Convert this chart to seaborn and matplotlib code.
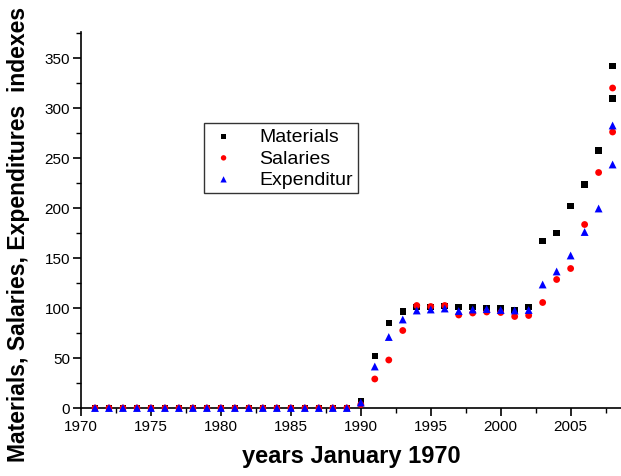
import numpy as np
import pandas as pd
import matplotlib
matplotlib.use("Agg")
import matplotlib.pyplot as plt
import seaborn as sns
from matplotlib.ticker import MultipleLocator

years = list(range(1971, 2009)) + [2008]

materials = [0] * 19 + [6.5, 52, 85, 96.5, 101, 101, 102, 101, 101, 100, 99.5, 98, 101,
                        167, 175, 202, 223.5, 257.5, 342, 309.5]
salaries = [0] * 19 + [3.5, 29, 48, 77.5, 102.5, 101.5, 102.5, 93, 95, 96, 95.5, 91.5, 92.5,
                       105.5, 128.5, 139.5, 183.5, 235.5, 320, 276]
expenditures = [0] * 19 + [5.5, 41.5, 71, 88.5, 97.5, 98.5, 99.5, 97, 98.5, 99, 98, 97.5, 98,
                           123.5, 136.5, 152.5, 176, 199.5, 282.5, 243.5]

series_names = ["Materials", "Salaries", "Expenditur"]
x_ticks = [1970, 1975, 1980, 1985, 1990, 1995, 2000, 2005]
y_ticks = [0, 50, 100, 150, 200, 250, 300, 350]

sns.set_style("ticks")
plt.rcParams['font.family'] = ['Liberation Sans', 'DejaVu Sans']
plt.rcParams['text.color'] = 'black'
plt.rcParams['axes.labelcolor'] = 'black'
plt.rcParams['xtick.color'] = 'black'
plt.rcParams['ytick.color'] = 'black'

fig = plt.figure(figsize=(6.21, 4.77), dpi=100)
ax = fig.add_axes([81 / 621, 68 / 477, 540 / 621, 376 / 477])

styles = [("s", "black", 22), ("o", "#ff0000", 24), ("^", "#0000ff", 32)]
for vals, name, (mk, col, sz) in zip([materials, salaries, expenditures], series_names, styles):
    sns.scatterplot(x=years, y=vals, marker=mk, color=col, s=sz, edgecolor="none",
                    linewidth=0, label=name, ax=ax, clip_on=False, zorder=3)

ax.set_xlim(1970, 2008.6)
ax.set_ylim(0, 376)
ax.set_xticks(x_ticks)
ax.set_yticks(y_ticks)
ax.xaxis.set_minor_locator(MultipleLocator(2.5))
ax.yaxis.set_minor_locator(MultipleLocator(25))
ax.tick_params(axis="both", which="major", direction="out", length=6, width=1.2,
               labelsize=11, colors="black", pad=2)
ax.tick_params(axis="both", which="minor", direction="out", length=3.5, width=1.0)
sns.despine(ax=ax)
for sp in ["left", "bottom"]:
    ax.spines[sp].set_color("black")
    ax.spines[sp].set_linewidth(1.2)

ax.set_xlabel("years January 1970", fontsize=17, fontweight="bold", labelpad=8, color="black")
ax.set_ylabel("Materials, Salaries, Expenditures  indexes", fontsize=16.5, fontweight="bold",
              color="black")
ax.yaxis.set_label_coords(-0.095, 0.465)

leg = ax.legend(loc="upper left", bbox_to_anchor=(0.228, 0.758), borderaxespad=0,
                fontsize=14, frameon=True, fancybox=False, edgecolor="black",
                handletextpad=1.1, labelspacing=0.2, markerscale=0.8,
                borderpad=0.25, handlelength=1.5, labelcolor="black")
leg.get_frame().set_linewidth(1.0)

fig.savefig("out.png", dpi=100)
